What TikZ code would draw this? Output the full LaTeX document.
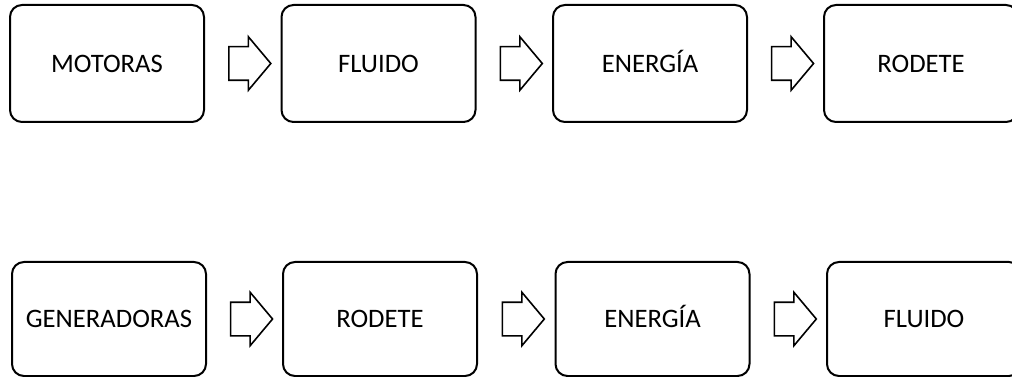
\documentclass[tikz,border=0pt]{standalone}
\usepackage{fontspec}
\setmainfont{Carlito}
\usetikzlibrary{shapes.arrows}
\begin{document}
\begin{tikzpicture}[x=0.75pt, y=-0.75pt]
\useasboundingbox (0,0) rectangle (1012,377);
\begin{scope}[every node/.style = {draw, rounded corners=9pt, line width=1.5pt, minimum width=145.5pt, text height=13pt, text depth=0pt, font=\fontsize{20}{24}\selectfont}]
\node[minimum height=87.75pt] (Mot) at (107, 63.5) {MOTORAS};
\node[minimum height=87.75pt] (Flu1) at (378.5, 63.5) {FLUIDO};
\node[minimum height=87.75pt] (Ene1) at (650, 63.5) {ENERGÍA};
\node[minimum height=87.75pt] (Rod1) at (921, 63.5) {RODETE};
\node[minimum height=85.5pt] (Gen) at (109, 319) {GENERADORAS};
\node[minimum height=85.5pt] (Rod2) at (380, 319) {RODETE};
\node[minimum height=85.5pt] (Ene2) at (652.5, 319) {ENERGÍA};
\node[minimum height=85.5pt] (Flu2) at (924, 319) {FLUIDO};
\end{scope}
\begin{scope}[every node/.style = {single arrow, draw, fill=white, line width=1.2pt, inner xsep=0pt, inner ysep=12pt, minimum height=31.5pt, single arrow head extend=7.5pt, single arrow tip angle=100}]
\path (Mot) -- node {} (Flu1);
\path (Flu1) -- node {} (Ene1);
\path (Ene1) -- node {} (Rod1);
\path (Gen) -- node {} (Rod2);
\path (Rod2) -- node {} (Ene2);
\path (Ene2) -- node {} (Flu2);
\end{scope}
\end{tikzpicture}
\end{document}
